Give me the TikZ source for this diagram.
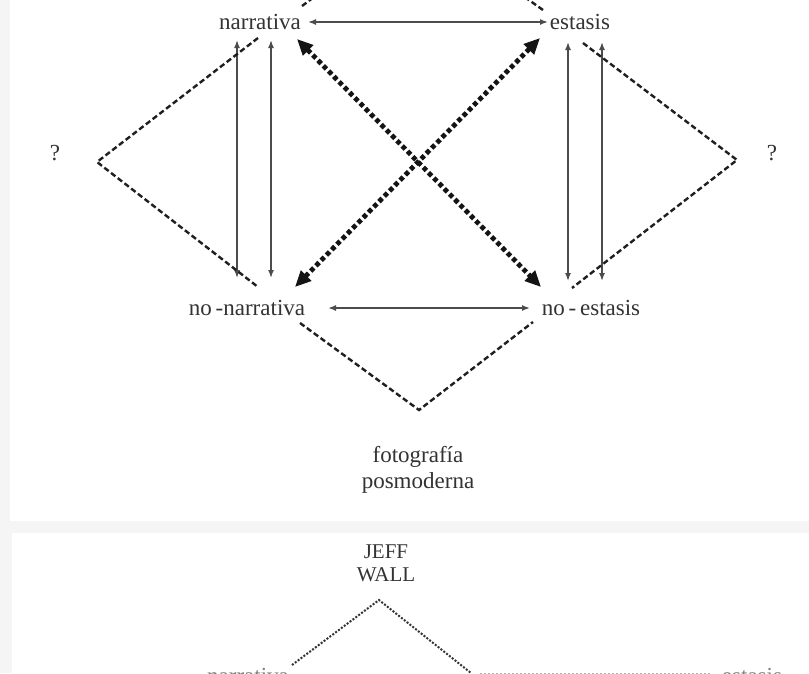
\documentclass[tikz,border=0pt]{standalone}
\usepackage{fontspec}
\setmainfont{Liberation Serif}
\usetikzlibrary{arrows.meta}
\begin{document}
\begin{tikzpicture}[x=1pt,y=-1pt,
  lbl/.style={anchor=base,inner sep=0pt,text=black!80,font=\fontsize{23}{27}\selectfont},
  thinarr/.style={line width=1.5pt,draw=black!70,{Latex[length=8pt,width=6pt]}-{Latex[length=8pt,width=6pt]}},
  bigarr/.style={line width=4.8pt,draw=black!92,dash pattern=on 4.5pt off 3pt,{Triangle[length=16pt,width=14pt]}-{Triangle[length=16pt,width=14pt]}},
  dashln/.style={line width=2.4pt,draw=black!88,dash pattern=on 5.5pt off 3pt},
  dotln/.style={line width=2pt,draw=black!80,dash pattern=on 2pt off 1.6pt}]
\useasboundingbox (0,0) rectangle (809,673);
% background and panels
\fill[black!4] (0,0) rectangle (809,673);
\fill[white] (10,-5) rectangle (815,521);
\fill[white] (12,533) rectangle (815,690);

% labels
\node[lbl] (nar) at (260,29) {narrativa};
\node[lbl] (est) at (580,29) {estasis};
\node[lbl] (nnar) at (247,315) {no\,-narrativa};
\node[lbl] (nest) at (591,315) {no\,-\,estasis};
\node[lbl] (qL) at (55,160) {?};
\node[lbl] (qR) at (772,160) {?};
\node[lbl] (foto) at (418,462) {fotografía};
\node[lbl] (posm) at (418,488) {posmoderna};
\node[lbl,font=\fontsize{21}{23}\selectfont] (jeff) at (386,558) {JEFF};
\node[lbl,font=\fontsize{21}{23}\selectfont] (wall) at (386,581) {WALL};
\node[lbl,text=black!50] (nar2) at (248,683) {narrativa};
\node[lbl,text=black!50] (est2) at (752,683) {estasis};

% arrow end coordinates
\coordinate (hT1) at (308,22); \coordinate (hT2) at (548,22);
\coordinate (hB1) at (328,308); \coordinate (hB2) at (530,308);
\coordinate (vL1t) at (237,40); \coordinate (vL1b) at (237,278);
\coordinate (vL2t) at (271,40); \coordinate (vL2b) at (271,278);
\coordinate (vR1t) at (568,42); \coordinate (vR1b) at (568,281);
\coordinate (vR2t) at (602,42); \coordinate (vR2b) at (602,281);
\coordinate (dA1) at (297,39); \coordinate (dA2) at (541,287);
\coordinate (dB1) at (540,38); \coordinate (dB2) at (295,287);

% dashed apex points
\coordinate (apL) at (97,162);
\coordinate (apR) at (737,160);
\coordinate (apB) at (419,410);
\coordinate (apJ) at (379,600);

% thin arrows
\draw[thinarr] (hT1) -- (hT2);
\draw[thinarr] (hB1) -- (hB2);
\draw[thinarr] (vL1t) -- (vL1b);
\draw[thinarr] (vL2t) -- (vL2b);
\draw[thinarr] (vR1t) -- (vR1b);
\draw[thinarr] (vR2t) -- (vR2b);

% thick dotted arrows
\draw[bigarr] (dA1) -- (dA2);
\draw[bigarr] (dB1) -- (dB2);

% dashed triangles
\draw[dashln] (258,38) -- (apL) -- (258,287);
\draw[dashln] (583,43) -- (apR) -- (572,288);
\draw[dashln] (300,323) -- (apB) -- (533,322);
% top (cropped) triangle
\draw[dashln] (302,6) -- (318,-6);
\draw[dashln] (543,10) -- (512,-12);

% lower panel
\draw[dotln] (292,665) -- (apJ) -- (471,673);
\draw[line width=1.5pt,draw=black!30,dash pattern=on 2pt off 2pt] (480,674) -- (712,674);
\end{tikzpicture}
\end{document}
